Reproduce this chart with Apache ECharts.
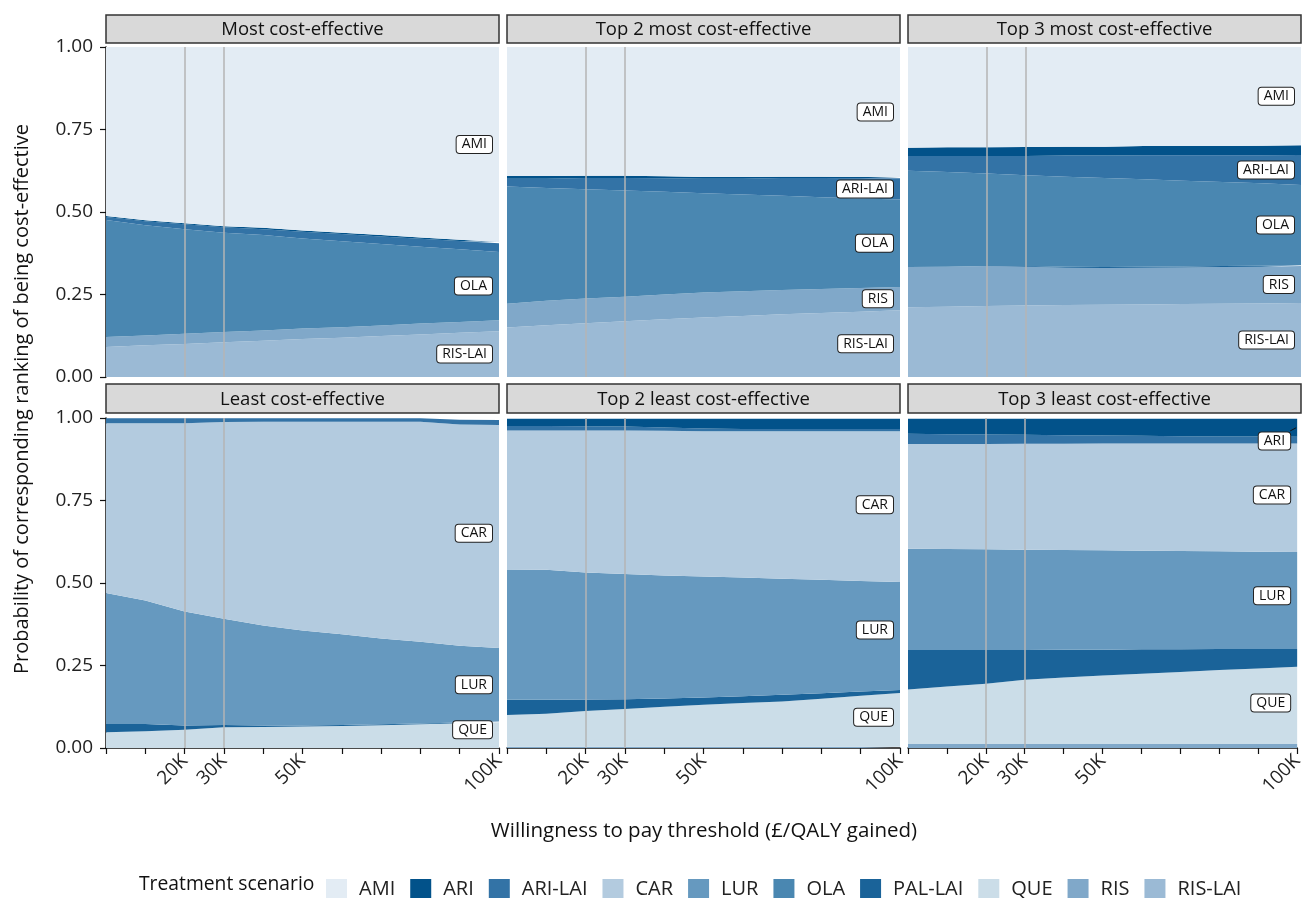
<!DOCTYPE html>
<html>
<head>
<meta charset="utf-8">
<script src="https://cdn.jsdelivr.net/npm/echarts@6.0.0/dist/echarts.min.js"></script>
<style>
  html, body { margin: 0; padding: 0; background: #ffffff; }
  #chart { width: 1306px; height: 898px; }
</style>
</head>
<body>
<div id="chart"></div>
<script>
// Willingness-to-pay thresholds (GBP per QALY gained)
const wtp = [0, 10000, 20000, 30000, 40000, 50000, 60000, 70000, 80000, 90000, 100000];
const wtpLabelled = [20000, 30000, 50000, 100000];
const wtpReference = [20000, 30000];
const yTicks = [0, 0.25, 0.5, 0.75, 1];

const treatments = ['AMI', 'ARI', 'ARI-LAI', 'CAR', 'LUR', 'OLA', 'PAL-LAI', 'QUE', 'RIS', 'RIS-LAI'];
const treatmentColors = ['#e3ecf4', '#02528a', '#3373a6', '#b3cbdf', '#6699bf', '#4a87b1', '#1a6399', '#cbdde8', '#80a8c9', '#9bbad5'];

const panelTitles = [
  'Most cost-effective', 'Top 2 most cost-effective', 'Top 3 most cost-effective',
  'Least cost-effective', 'Top 2 least cost-effective', 'Top 3 least cost-effective'
];

// Most cost-effective
const most1_AMI    = [0.512, 0.525, 0.534, 0.543, 0.548, 0.556, 0.563, 0.570, 0.577, 0.584, 0.591];
const most1_ARI    = [0.003, 0.003, 0.003, 0.003, 0.004, 0.004, 0.004, 0.004, 0.004, 0.004, 0.004];
const most1_ARILAI = [0.009, 0.012, 0.015, 0.017, 0.018, 0.020, 0.022, 0.023, 0.024, 0.025, 0.026];
const most1_OLA    = [0.355, 0.334, 0.317, 0.301, 0.289, 0.273, 0.260, 0.247, 0.233, 0.220, 0.207];
const most1_RIS    = [0.030, 0.030, 0.031, 0.031, 0.031, 0.032, 0.032, 0.032, 0.033, 0.033, 0.033];
const most1_RISLAI = [0.091, 0.096, 0.100, 0.105, 0.110, 0.115, 0.119, 0.124, 0.129, 0.134, 0.139];

// Top 2 most cost-effective
const most2_AMI    = [0.391, 0.391, 0.390, 0.390, 0.392, 0.394, 0.394, 0.393, 0.393, 0.394, 0.394];
const most2_ARI    = [0.008, 0.008, 0.007, 0.007, 0.006, 0.005, 0.005, 0.004, 0.004, 0.004, 0.004];
const most2_ARILAI = [0.024, 0.028, 0.034, 0.038, 0.041, 0.044, 0.048, 0.054, 0.058, 0.061, 0.064];
const most2_OLA    = [0.355, 0.342, 0.331, 0.322, 0.311, 0.301, 0.293, 0.285, 0.278, 0.271, 0.265];
const most2_RIS    = [0.072, 0.074, 0.075, 0.074, 0.075, 0.076, 0.075, 0.074, 0.073, 0.072, 0.071];
const most2_RISLAI = [0.150, 0.157, 0.163, 0.169, 0.175, 0.180, 0.185, 0.190, 0.194, 0.198, 0.202];

// Top 3 most cost-effective
const most3_AMI    = [0.305, 0.304, 0.304, 0.303, 0.302, 0.302, 0.300, 0.300, 0.300, 0.299, 0.298];
const most3_ARI    = [0.025, 0.026, 0.026, 0.027, 0.027, 0.027, 0.028, 0.028, 0.028, 0.029, 0.029];
const most3_ARILAI = [0.045, 0.049, 0.053, 0.059, 0.064, 0.068, 0.073, 0.077, 0.081, 0.085, 0.091];
const most3_OLA    = [0.292, 0.287, 0.281, 0.275, 0.273, 0.270, 0.265, 0.260, 0.255, 0.250, 0.243];
const most3_PALLAI = [0.000, 0.000, 0.000, 0.002, 0.003, 0.003, 0.003, 0.003, 0.003, 0.003, 0.003];
const most3_RIS    = [0.122, 0.121, 0.121, 0.117, 0.113, 0.111, 0.111, 0.111, 0.111, 0.111, 0.112];
const most3_RISLAI = [0.211, 0.213, 0.215, 0.217, 0.218, 0.219, 0.220, 0.221, 0.222, 0.223, 0.224];

// Least cost-effective
const least1_ARILAI = [0.015, 0.015, 0.015, 0.011, 0.010, 0.010, 0.010, 0.010, 0.010, 0.015, 0.015];
const least1_CAR    = [0.514, 0.537, 0.570, 0.596, 0.618, 0.633, 0.644, 0.657, 0.667, 0.670, 0.676];
const least1_LUR    = [0.397, 0.374, 0.346, 0.322, 0.303, 0.288, 0.275, 0.260, 0.248, 0.233, 0.223];
const least1_PALLAI = [0.025, 0.022, 0.013, 0.007, 0.004, 0.003, 0.003, 0.003, 0.002, 0.002, 0.002];
const least1_QUE    = [0.048, 0.051, 0.055, 0.063, 0.064, 0.065, 0.067, 0.069, 0.072, 0.075, 0.078];

// Top 2 least cost-effective
const least2_ARI    = [0.022, 0.022, 0.023, 0.024, 0.027, 0.030, 0.031, 0.031, 0.031, 0.031, 0.031];
const least2_ARILAI = [0.014, 0.014, 0.013, 0.012, 0.010, 0.008, 0.007, 0.007, 0.007, 0.007, 0.007];
const least2_CAR    = [0.421, 0.422, 0.430, 0.435, 0.438, 0.440, 0.443, 0.447, 0.450, 0.454, 0.457];
const least2_LUR    = [0.395, 0.394, 0.385, 0.379, 0.373, 0.367, 0.360, 0.352, 0.344, 0.335, 0.327];
const least2_PALLAI = [0.046, 0.042, 0.035, 0.030, 0.025, 0.022, 0.021, 0.020, 0.017, 0.013, 0.009];
const least2_QUE    = [0.096, 0.100, 0.108, 0.114, 0.121, 0.127, 0.132, 0.137, 0.145, 0.154, 0.163];
const least2_RIS    = [0.004, 0.004, 0.004, 0.004, 0.004, 0.004, 0.004, 0.004, 0.004, 0.004, 0.004];

// Top 3 least cost-effective
const least3_ARI    = [0.046, 0.047, 0.048, 0.049, 0.050, 0.051, 0.052, 0.053, 0.054, 0.054, 0.055];
const least3_ARILAI = [0.031, 0.030, 0.029, 0.027, 0.026, 0.024, 0.023, 0.022, 0.021, 0.021, 0.020];
const least3_CAR    = [0.317, 0.318, 0.319, 0.321, 0.322, 0.324, 0.325, 0.326, 0.327, 0.328, 0.329];
const least3_LUR    = [0.307, 0.306, 0.305, 0.304, 0.302, 0.301, 0.299, 0.298, 0.296, 0.295, 0.294];
const least3_PALLAI = [0.120, 0.111, 0.102, 0.090, 0.084, 0.078, 0.074, 0.069, 0.064, 0.059, 0.054];
const least3_QUE    = [0.165, 0.174, 0.183, 0.195, 0.202, 0.208, 0.213, 0.218, 0.224, 0.229, 0.234];
const least3_RIS    = [0.012, 0.012, 0.012, 0.012, 0.012, 0.012, 0.012, 0.012, 0.012, 0.012, 0.012];

// Which treatments get a tag at the right edge of each panel, with vertical nudges
const panelTags = [
  [['AMI', 0], ['OLA', 0], ['RIS-LAI', 0]],
  [['AMI', 0], ['ARI-LAI', 0], ['OLA', 0], ['RIS', 0], ['RIS-LAI', 0]],
  [['AMI', 0], ['ARI-LAI', 0], ['OLA', 0], ['RIS', 0], ['RIS-LAI', 0]],
  [['CAR', 0.010], ['LUR', 0], ['QUE', 0.016]],
  [['CAR', 0.006], ['LUR', 0.018], ['QUE', 0.008]],
  [['ARI', -0.040], ['CAR', 0.008], ['LUR', 0.014], ['QUE', 0.007]]
];

const panelSeries = [
  { 'AMI': most1_AMI, 'ARI': most1_ARI, 'ARI-LAI': most1_ARILAI, 'OLA': most1_OLA, 'RIS': most1_RIS, 'RIS-LAI': most1_RISLAI },
  { 'AMI': most2_AMI, 'ARI': most2_ARI, 'ARI-LAI': most2_ARILAI, 'OLA': most2_OLA, 'RIS': most2_RIS, 'RIS-LAI': most2_RISLAI },
  { 'AMI': most3_AMI, 'ARI': most3_ARI, 'ARI-LAI': most3_ARILAI, 'OLA': most3_OLA, 'PAL-LAI': most3_PALLAI, 'RIS': most3_RIS, 'RIS-LAI': most3_RISLAI },
  { 'ARI-LAI': least1_ARILAI, 'CAR': least1_CAR, 'LUR': least1_LUR, 'PAL-LAI': least1_PALLAI, 'QUE': least1_QUE },
  { 'ARI': least2_ARI, 'ARI-LAI': least2_ARILAI, 'CAR': least2_CAR, 'LUR': least2_LUR, 'PAL-LAI': least2_PALLAI, 'QUE': least2_QUE, 'RIS': least2_RIS },
  { 'ARI': least3_ARI, 'ARI-LAI': least3_ARILAI, 'CAR': least3_CAR, 'LUR': least3_LUR, 'PAL-LAI': least3_PALLAI, 'QUE': least3_QUE, 'RIS': least3_RIS }
];

// ---- layout ----
const FONT = '"Open Sans", "Noto Sans", sans-serif';
const colLeft = [106, 507, 908];
const colWidth = 393;
const rowTop = [47, 418];
const rowHeight = 330;
const stripTop = [15, 384];
const stripHeight = [28, 29];

const colorOf = name => treatmentColors[treatments.indexOf(name)];
const wtpCategories = wtp.map(String);
const lastCategory = wtpCategories[wtpCategories.length - 1];

const grids = [], xAxes = [], yAxes = [], series = [];
const tagPositions = [];

panelSeries.forEach((set, p) => {
  const row = Math.floor(p / 3), col = p % 3;
  grids.push({ left: colLeft[col], top: rowTop[row], width: colWidth, height: rowHeight, containLabel: false });

  const bottomRow = row === 1;
  // thresholds are evenly spaced, so a category axis gives the same linear placement
  xAxes.push({
    type: 'category', gridIndex: p, data: wtpCategories, boundaryGap: false,
    axisLine: { show: bottomRow, onZero: false, lineStyle: { color: '#111', width: 1.5 } },
    axisTick: { show: bottomRow, interval: 0, length: 6, lineStyle: { color: '#111', width: 1.2 } },
    axisLabel: {
      show: bottomRow, interval: 0, rotate: 45, margin: 10, fontSize: 19, color: '#222', fontFamily: FONT,
      formatter: v => wtpLabelled.includes(Number(v)) ? (Number(v) / 1000) + 'K' : ''
    },
    splitLine: { show: false }
  });
  const leftCol = col === 0;
  yAxes.push({
    type: 'value', gridIndex: p, min: 0, max: 1, interval: 0.25,
    axisLine: { show: leftCol, lineStyle: { color: '#111', width: 1.5 } },
    axisTick: { show: leftCol, length: 6, lineStyle: { color: '#111', width: 1.2 } },
    axisLabel: {
      show: leftCol, fontSize: 19, color: '#222', fontFamily: FONT, margin: 13,
      formatter: v => yTicks.includes(v) ? v.toFixed(2) : ''
    },
    splitLine: { show: false }
  });

  // stack from the bottom in reverse alphabetical order
  const cumTop = {}, cumBottom = {};
  let running = wtp.map(() => 0);
  treatments.slice().reverse().forEach(name => {
    const vals = set[name];
    if (!vals) return;
    const last = vals.length - 1;
    cumBottom[name] = running[last];
    running = running.map((r, i) => r + vals[i]);
    cumTop[name] = running[last];
    series.push({
      name: name, type: 'line', stack: 'panel' + p,
      xAxisIndex: p, yAxisIndex: p,
      data: vals.slice(),
      showSymbol: false, symbol: 'none',
      lineStyle: { width: 0 },
      areaStyle: { color: colorOf(name), opacity: 1 },
      itemStyle: { color: colorOf(name) },
      silent: true, z: 2
    });
  });

  // treatment tags at the right edge, centred on each band
  const tagData = panelTags[p].map(([name, nudge]) => {
    const mid = (cumTop[name] + cumBottom[name]) / 2;
    tagPositions.push({ panel: p, name, mid, y: mid + nudge });
    return { name, value: [lastCategory, mid + nudge] };
  });
  series.push({
    type: 'scatter', xAxisIndex: p, yAxisIndex: p, silent: true, z: 5,
    symbolSize: 0, data: tagData,
    itemStyle: { opacity: 1 },
    label: {
      show: true, position: 'left', distance: 7, formatter: d => d.name,
      fontFamily: FONT, fontSize: 14, color: '#111', opacity: 1,
      backgroundColor: '#ffffff', borderColor: '#222', borderWidth: 1, borderRadius: 3,
      padding: [2, 5, 1, 5]
    },
    markLine: {
      silent: true, symbol: ['none', 'none'], label: { show: false },
      lineStyle: { color: '#b5b5b5', width: 1.5, type: 'solid', opacity: 1 },
      data: wtpReference.map(v => ({ xAxis: String(v) }))
    }
  });
});

const chart = echarts.init(document.getElementById('chart'), null, { renderer: 'canvas' });
chart.setOption({
  animation: false,
  backgroundColor: '#ffffff',
  textStyle: { fontFamily: FONT },
  grid: grids, xAxis: xAxes, yAxis: yAxes, series: series,
  legend: {
    data: treatments, left: 321, top: 874, itemWidth: 21, itemHeight: 21, itemGap: 15,
    icon: 'rect', selectedMode: false,
    textStyle: { fontSize: 20, color: '#222', fontFamily: FONT, padding: [0, 0, 0, 7] }
  },
  color: treatmentColors
});

// strips, axis titles, legend title and the tag leader line
const graphics = [];
panelTitles.forEach((t, p) => {
  const row = Math.floor(p / 3), col = p % 3;
  graphics.push({
    type: 'rect', silent: true,
    shape: { x: colLeft[col], y: stripTop[row], width: colWidth, height: stripHeight[row] },
    style: { fill: '#d9d9d9', stroke: '#333', lineWidth: 1.5 }
  });
  graphics.push({
    type: 'text', silent: true,
    x: colLeft[col] + colWidth / 2, y: stripTop[row] + stripHeight[row] / 2 + 1,
    style: { text: t, fontSize: 18.5, fontFamily: FONT, fill: '#111', align: 'center', verticalAlign: 'middle' }
  });
});
graphics.push({
  type: 'text', silent: true, x: 22, y: 399, rotation: Math.PI / 2,
  style: { text: 'Probability of corresponding ranking of being cost-effective', fontSize: 20, fontFamily: FONT, fill: '#111', align: 'center', verticalAlign: 'middle' }
});
graphics.push({
  type: 'text', silent: true, x: 704, y: 831,
  style: { text: 'Willingness to pay threshold (£/QALY gained)', fontSize: 20.5, fontFamily: FONT, fill: '#111', align: 'center', verticalAlign: 'middle' }
});
graphics.push({
  type: 'text', silent: true, x: 139, y: 885,
  style: { text: 'Treatment scenario', fontSize: 19.3, fontFamily: FONT, fill: '#111', align: 'left', verticalAlign: 'middle' }
});

// leader from a displaced tag back to its band
tagPositions.filter(t => Math.abs(t.y - t.mid) > 0.03).forEach(t => {
  const band = chart.convertToPixel({ gridIndex: t.panel }, [lastCategory, t.mid]);
  const tag = chart.convertToPixel({ gridIndex: t.panel }, [lastCategory, t.y]);
  const up = t.mid > t.y;
  graphics.push({
    type: 'line', silent: true, z: 10,
    shape: { x1: tag[0] - 7, y1: tag[1] + (up ? -10 : 10), x2: band[0] - 1, y2: band[1] },
    style: { stroke: '#111', lineWidth: 1 }
  });
});

chart.setOption({ graphic: graphics });
</script>
</body>
</html>
